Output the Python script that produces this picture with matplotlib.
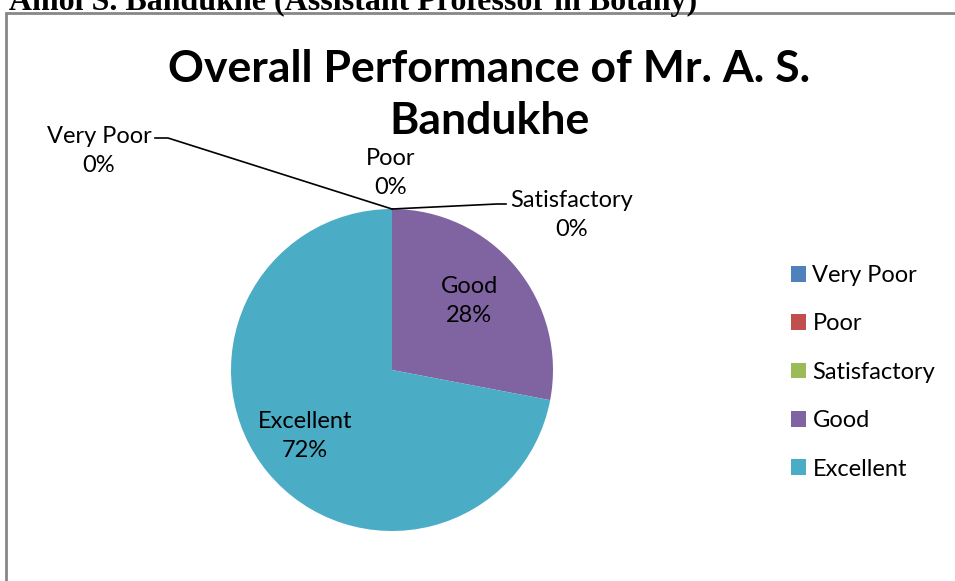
import matplotlib
matplotlib.use('Agg')
from matplotlib import pyplot as plt
from matplotlib.patches import Rectangle

categories = ['Very Poor', 'Poor', 'Satisfactory', 'Good', 'Excellent']
shares = [0, 0, 0, 28, 72]
colors = ['#4F81BD', '#C0504D', '#9BBB59', '#8064A2', '#4BACC6']
title = 'Overall Performance of Mr. A. S.\nBandukhe'
header = ': Amol S. Bandukhe (Assistant Professor in Botany)'

W, H = 955, 581
fig = plt.figure(figsize=(W / 100, H / 100), dpi=100)
ax = fig.add_axes([0, 0, 1, 1])

def Y(y):
    # pixel row from the top -> data y
    return H - y

plt.rcParams['font.family'] = ['Lato', 'DejaVu Sans']

cx, cy, r = 392, 370, 161
wedges, _ = ax.pie(shares, colors=colors, startangle=90, counterclock=False,
                   center=(cx, Y(cy)), radius=r, frame=True)
ax.set_xlim(0, W)
ax.set_ylim(0, H)
ax.axis('off')

# cut-off line of document text above the chart
ax.text(-8, Y(10), header, fontsize=23, fontweight='bold', family='Liberation Serif',
        ha='left', va='baseline')

# chart frame
ax.add_patch(Rectangle((6, Y(600)), 1000, 587, fill=False, edgecolor='#878787', lw=2))

ax.text(489, Y(95), title, fontsize=32, fontweight='bold', ha='center', va='center',
        linespacing=1.38)

lab = dict(fontsize=17, ha='center', va='center', linespacing=1.5)
labels = ['%s\n%d%%' % (c, s) for c, s in zip(categories, shares)]
ax.text(99, Y(151), labels[0], **lab)
ax.plot([155, 168, cx], [Y(138), Y(138), Y(209)], color='black', lw=1.2)
ax.text(391, Y(173), labels[1], **lab)
ax.text(572, Y(215), labels[2], **lab)
ax.plot([cx, 497, 506], [Y(209), Y(204), Y(204)], color='black', lw=1.2)
ax.text(469, Y(301), labels[3], **lab)
ax.text(305, Y(436), labels[4], **lab)

leg = ax.legend(wedges, categories, loc='upper left', bbox_to_anchor=(791 / W, Y(265) / H),
                frameon=False, fontsize=17, handlelength=0.64, handleheight=0.64,
                handletextpad=0.27, labelspacing=1.16, borderaxespad=0, borderpad=0)

fig.savefig('out.png', dpi=100)
